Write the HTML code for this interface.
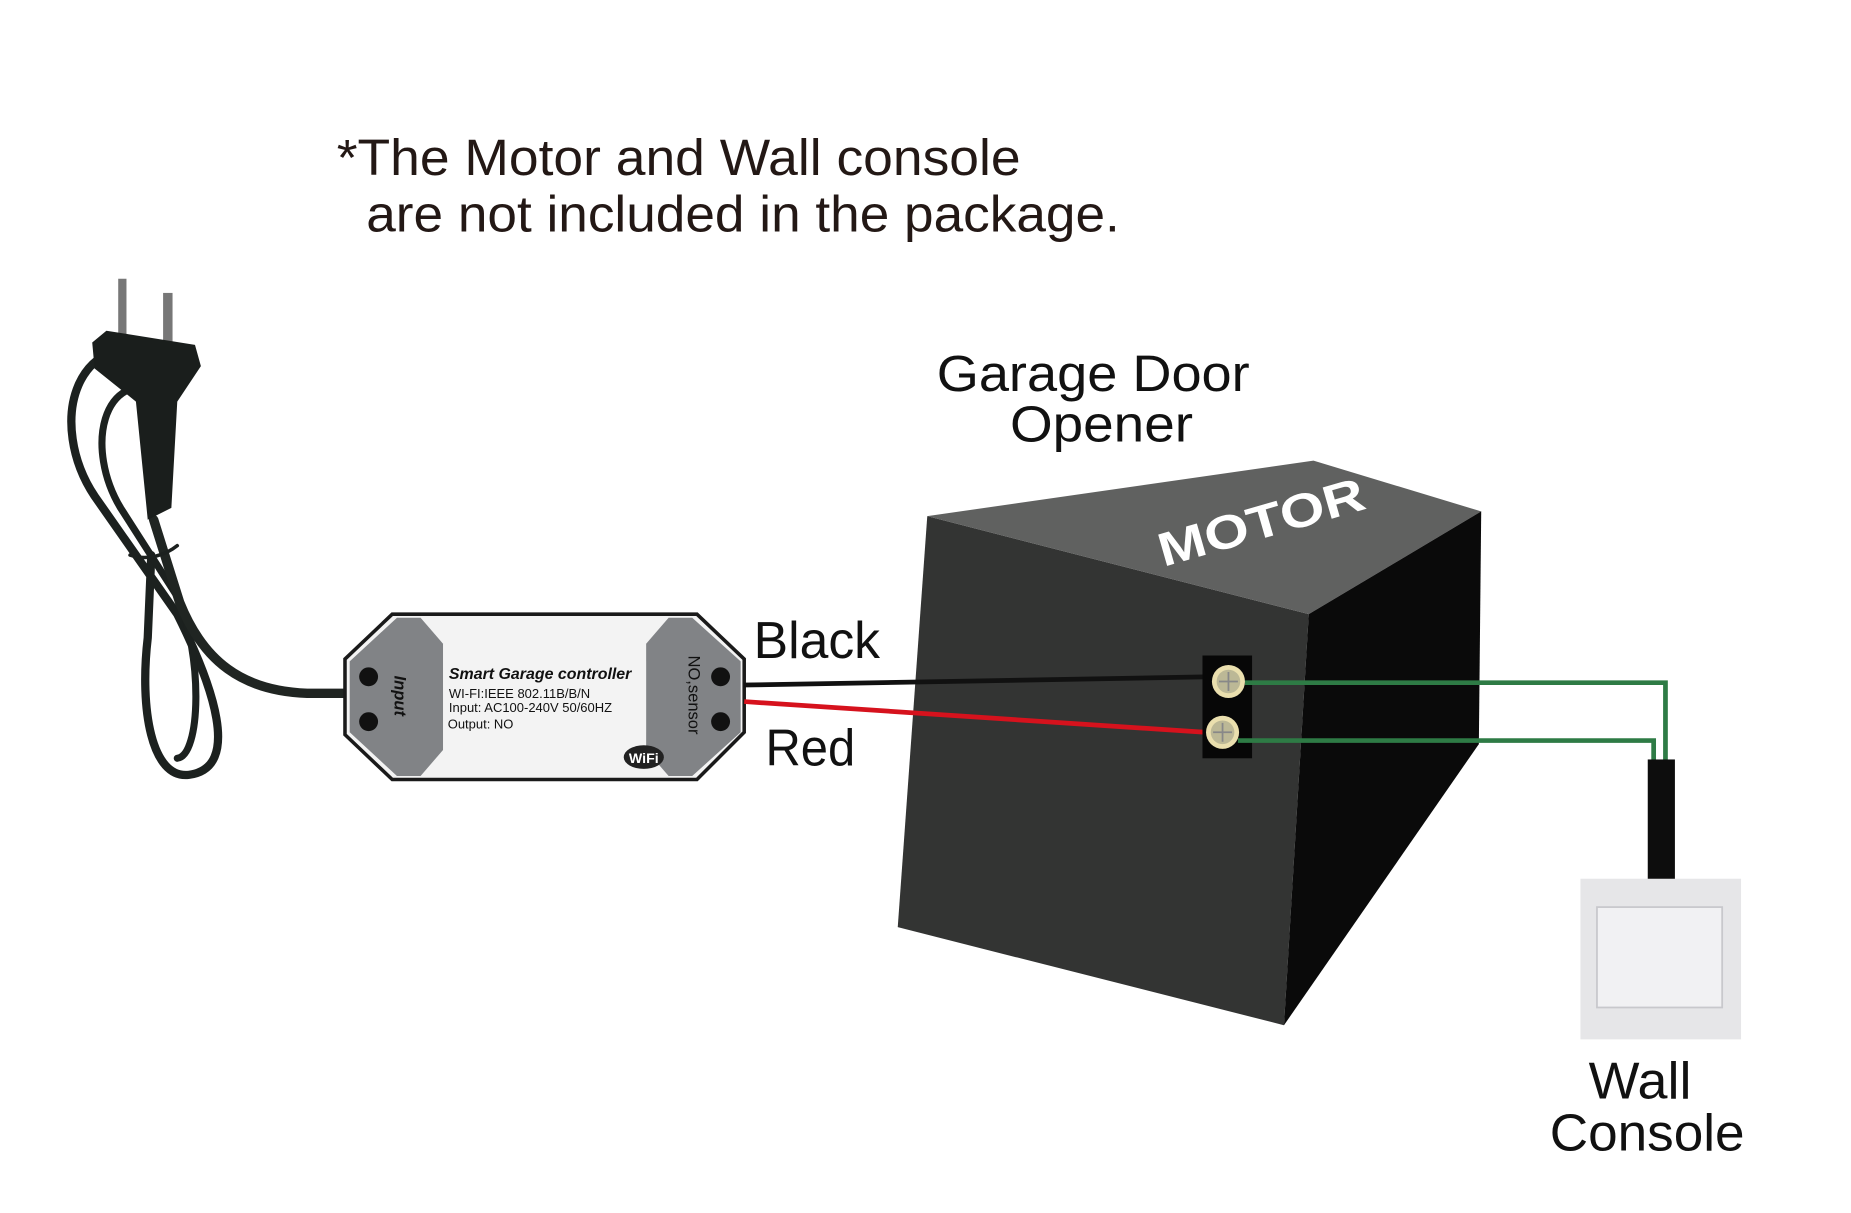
<!DOCTYPE html>
<html><head><meta charset="utf-8"><style>
html,body{margin:0;padding:0;background:#fff;}
svg{display:block;}
text{font-family:"Liberation Sans",sans-serif;}
</style></head><body>
<svg width="1851" height="1213" viewBox="0 0 1567 1027" xmlns="http://www.w3.org/2000/svg">
<rect width="1567" height="1027" fill="#fff"/>
<text x="285" y="148" font-size="43" fill="#231815" textLength="579" lengthAdjust="spacingAndGlyphs">*The Motor and Wall console</text>
<text x="310" y="196" font-size="43" fill="#231815" textLength="638" lengthAdjust="spacingAndGlyphs">are not included in the package.</text>
<text x="793" y="331" font-size="43" fill="#111" textLength="265" lengthAdjust="spacingAndGlyphs">Garage Door</text>
<text x="855" y="374" font-size="43" fill="#111" textLength="155" lengthAdjust="spacingAndGlyphs">Opener</text>

<!-- plug & cord -->
<g fill="none" stroke="#1c211f" stroke-linecap="round">
<path d="M150,300 C60,270 40,360 80,420 L150,520 C180,580 205,650 160,656 C128,660 118,600 125,540 L128,470" stroke-width="7"/>
<path d="M140,330 C85,312 72,380 102,430 L150,505 C172,555 170,640 150,642" stroke-width="6"/>
<path d="M130,440 L152,510 C172,560 205,585 260,587 L296,587" stroke-width="8" stroke="#202522"/>
<path d="M110,470 C125,475 140,470 150,462" stroke-width="3"/>
</g>
<rect x="100" y="236" width="7" height="50" fill="#777"/>
<rect x="138" y="248" width="8" height="44" fill="#777"/>
<path d="M78,290 L90,280 L165,292 L170,310 L150,340 L145,430 L125,440 L115,340 L80,312 Z" fill="#1a1e1c"/>

<!-- controller -->
<polygon points="332,520 590,520 630,558 630,620 590,660 332,660 292,622 292,558" fill="#f3f3f3" stroke="#1a1a1a" stroke-width="3"/>
<polygon points="336,523 356,523 375,545 375,635 356,657 336,657 296,620 296,560" fill="#818386"/>
<polygon points="586,523 566,523 547,545 547,635 566,657 586,657 627,620 627,560" fill="#818386"/>
<circle cx="312" cy="573" r="8" fill="#111"/><circle cx="312" cy="611" r="8" fill="#111"/>
<circle cx="610" cy="573" r="8" fill="#111"/><circle cx="610" cy="611" r="8" fill="#111"/>
<text transform="translate(334,572) rotate(90)" font-size="14" font-style="italic" font-weight="bold" fill="#111">Input</text>
<text transform="translate(583,555) rotate(90)" font-size="14" fill="#111">NO,sensor</text>
<text x="380" y="575" font-size="13.5" font-style="italic" font-weight="bold" fill="#111">Smart Garage controller</text>
<text x="380" y="591" font-size="11" fill="#111">WI-FI:IEEE 802.11B/B/N</text>
<text x="380" y="603" font-size="11" fill="#111">Input: AC100-240V 50/60HZ</text>
<text x="379" y="617" font-size="11" fill="#111">Output: NO</text>
<ellipse cx="545" cy="641" rx="17" ry="10" fill="#222"/>
<text x="545" y="646" font-size="12" font-weight="bold" fill="#fff" text-anchor="middle">WiFi</text>

<!-- motor -->
<polygon points="785,437 1108,520 1087,868 760,785" fill="#333433"/>
<polygon points="785,437 1112,390 1254,433 1108,520" fill="#606160"/>
<polygon points="1108,520 1254,433 1252,630 1087,868" fill="#0a0a0a"/>
<text transform="translate(985,480) rotate(-16)" font-size="40" font-weight="bold" fill="#fff" textLength="180" lengthAdjust="spacingAndGlyphs">MOTOR</text>

<!-- wires -->
<line x1="630" y1="580" x2="1025" y2="573" stroke="#111" stroke-width="4"/>
<line x1="630" y1="594" x2="1020" y2="620" stroke="#d6121d" stroke-width="4"/>
<rect x="1018" y="555" width="42" height="87" fill="#070707"/>
<circle cx="1040" cy="577" r="14" fill="#eadfae"/><circle cx="1040" cy="577" r="10" fill="#bcb896"/>
<path d="M1040,569 V585 M1032,577 H1048" stroke="#888" stroke-width="1.5"/>
<circle cx="1035" cy="620" r="14" fill="#eadfae"/><circle cx="1035" cy="620" r="10" fill="#bcb896"/>
<path d="M1035,612 V628 M1027,620 H1043" stroke="#888" stroke-width="1.5"/>
<polyline points="1054,578 1410,578 1410,645" fill="none" stroke="#2e7b45" stroke-width="4"/>
<polyline points="1048,627 1400,627 1400,645" fill="none" stroke="#2e7b45" stroke-width="4"/>
<rect x="1395" y="643" width="23" height="102" fill="#0d0d0d"/>

<!-- wall switch -->
<rect x="1338" y="744" width="136" height="136" fill="#e6e6e8"/>
<rect x="1352" y="768" width="106" height="85" fill="#f1f1f3" stroke="#c8c8cc" stroke-width="1.5"/>

<text x="638" y="557" font-size="44" fill="#111" textLength="107" lengthAdjust="spacingAndGlyphs">Black</text>
<text x="648" y="648" font-size="44" fill="#111" textLength="76" lengthAdjust="spacingAndGlyphs">Red</text>
<text x="1345" y="930" font-size="44" fill="#111" textLength="87" lengthAdjust="spacingAndGlyphs">Wall</text>
<text x="1312" y="974" font-size="44" fill="#111" textLength="165" lengthAdjust="spacingAndGlyphs">Console</text>
</svg>
</body></html>
